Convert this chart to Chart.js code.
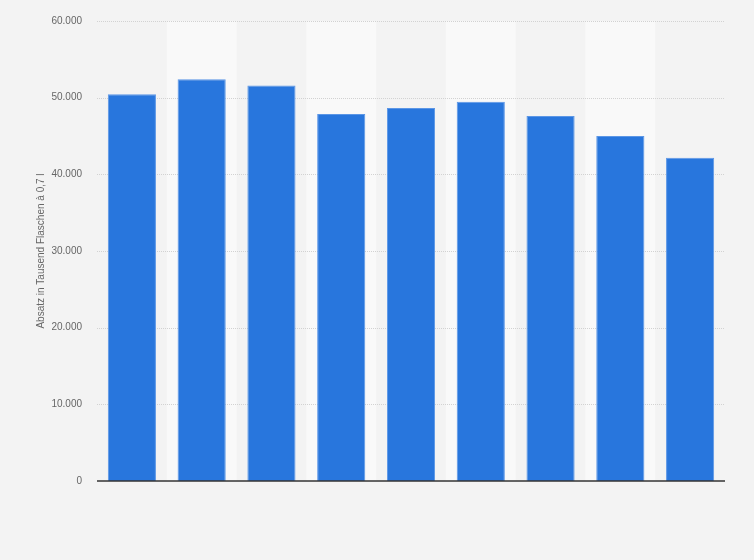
<!DOCTYPE html>
<html>
<head>
<meta charset="utf-8">
<script src="https://cdn.jsdelivr.net/npm/chart.js@4"></script>
<style>
html,body{margin:0;padding:0;background:#f3f3f3;}
#wrap{width:754px;height:560px;}
</style>
</head>
<body>
<div id="wrap"><canvas id="c" width="754" height="560"></canvas></div>
<script>
const categories = ['1','2','3','4','5','6','7','8','9'];
const sales = [50450, 52400, 51600, 47860, 48650, 49460, 47600, 45000, 42170];
const yTicks = [0, 10000, 20000, 30000, 40000, 50000, 60000];
const yTitle = 'Absatz in Tausend Flaschen à 0,7 l';

function fmt(v){ return String(v).replace(/\B(?=(\d{3})+(?!\d))/g, '.'); }

const bands = {
  id:'bands',
  beforeDatasetsDraw(chart){
    const {ctx, chartArea:a, scales:{x}} = chart;
    ctx.save();
    ctx.fillStyle = '#f9f9f9';
    const w = (a.right - a.left)/categories.length;
    for(let i=1;i<categories.length;i+=2){
      const cx = x.getPixelForValue(i);
      ctx.fillRect(cx - w/2, a.top, w, a.bottom - a.top);
    }
    ctx.restore();
  }
};

const gridFront = {
  id:'gridFront',
  beforeDatasetsDraw(chart){
    const {ctx, chartArea:a, scales:{y}} = chart;
    ctx.save();
    ctx.strokeStyle = '#d2d2d2';
    ctx.lineWidth = 1;
    ctx.setLineDash([1,1]);
    yTicks.forEach(t=>{
      if(t===0) return;
      const py = Math.round(y.getPixelForValue(t)) + 0.5;
      ctx.beginPath(); ctx.moveTo(a.left, py); ctx.lineTo(a.right, py); ctx.stroke();
    });
    ctx.restore();
  },
  afterDatasetsDraw(chart){
    const {ctx, chartArea:a, scales:{y}} = chart;
    ctx.save();
    ctx.strokeStyle = '#333';
    ctx.lineWidth = 1.5;
    const py = y.getPixelForValue(0);
    ctx.beginPath(); ctx.moveTo(a.left, py); ctx.lineTo(a.right, py); ctx.stroke();
    ctx.restore();
  }
};

new Chart(document.getElementById('c'), {
  type:'bar',
  data:{
    labels:categories,
    datasets:[{
      data:sales,
      backgroundColor:'#2876dd',
      borderColor:'#5b96e6',
      borderWidth:1,
      categoryPercentage:1,
      barPercentage:0.69
    }]
  },
  options:{
    responsive:false,
    animation:false,
    layout:{padding:{left:35,right:29,top:20,bottom:79}},
    plugins:{legend:{display:false},tooltip:{enabled:false}},
    scales:{
      x:{
        afterFit(s){ s.height = 0; },
        grid:{display:false, drawTicks:false},
        border:{display:false},
        ticks:{display:false}
      },
      y:{
        min:0,max:60000,
        afterFit(s){ s.width = 62; },
        afterBuildTicks(s){ s.ticks = yTicks.map(v=>({value:v})); },
        grid:{display:false, drawTicks:false},
        border:{display:false},
        ticks:{
          color:'#666',
          padding:15,
          font:{family:'Liberation Sans, Arial, sans-serif', size:10},
          callback:v=>fmt(v)
        },
        title:{
          display:true,
          text:yTitle,
          color:'#666',
          padding:{top:0,bottom:0},
          font:{family:'Liberation Sans, Arial, sans-serif', size:10}
        }
      }
    }
  },
  plugins:[bands, gridFront]
});
</script>
</body>
</html>
